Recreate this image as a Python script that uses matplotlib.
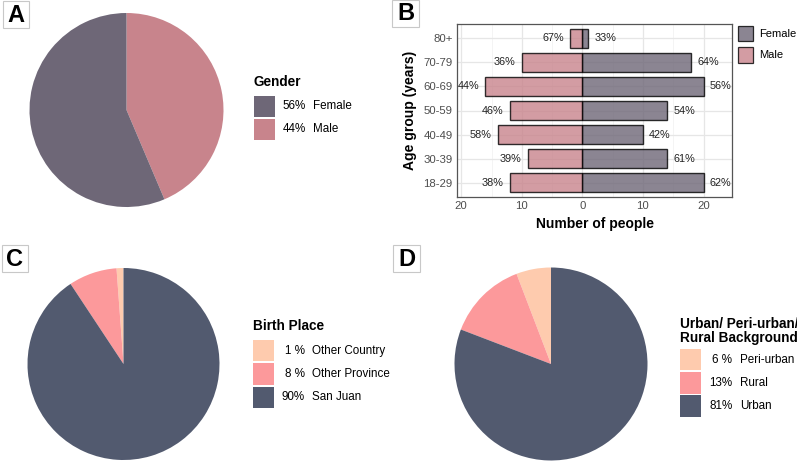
import numpy as np
import matplotlib as mpl
mpl.use("Agg")
import matplotlib.pyplot as plt
from matplotlib.patches import Rectangle

mpl.rcParams['font.family'] = ['Liberation Sans', 'DejaVu Sans']

W, H = 797, 462

# ---- data ----
gender = ["Female", "Male"]
gender_pct = ["56%", "44%"]
gender_counts = [97, 75]

age_groups = ["18-29", "30-39", "40-49", "50-59", "60-69", "70-79", "80+"]
female_n = [20, 14, 10, 14, 20, 18, 1]
male_n = [12, 9, 14, 12, 16, 10, 2]
female_pct = ["62%", "61%", "42%", "54%", "56%", "64%", "33%"]
male_pct = ["38%", "39%", "58%", "46%", "44%", "36%", "67%"]

birth = ["Other Country", "Other Province", "San Juan"]
birth_pct = ["1 %", "8 %", "90%"]
birth_counts = [2, 14, 156]

background = ["Peri-urban", "Rural", "Urban"]
background_pct = ["6 %", "13%", "81%"]
background_counts = [10, 23, 139]

COL_F = "#6e6777"
COL_M = "#c8848c"
COL_PEACH = "#fecbae"
COL_PINK = "#fc999b"
COL_SLATE = "#525a6f"


def px_axes(fig, left, top, right, bottom):
    return fig.add_axes([left / W, 1 - bottom / H, (right - left) / W, (bottom - top) / H])


def fx(x):
    return x / W


def fy(y):
    return 1 - y / H


def panel_letter(fig, letter, x0, y0, x1, y1):
    fig.patches.append(Rectangle((fx(x0), fy(y1)), fx(x1) - fx(x0), fy(y0) - fy(y1),
                                 transform=fig.transFigure, facecolor="white",
                                 edgecolor="#c8c8c8", linewidth=0.8))
    fig.text(fx((x0 + x1) / 2), fy((y0 + y1) / 2 + 0.5), letter, fontsize=17,
             fontweight="bold", ha="center", va="center")


def legend_block(fig, title, x, title_y, key_tops, key_h, colors, pcts, names,
                 pct_right, name_left):
    fig.text(fx(x), fy(title_y), title, fontsize=9.8, fontweight="bold",
             ha="left", va="baseline", linespacing=0.95)
    for top, c, p, n in zip(key_tops, colors, pcts, names):
        fig.patches.append(Rectangle((fx(x), fy(top + key_h)), 21 / W, key_h / H,
                                     transform=fig.transFigure, facecolor=c,
                                     edgecolor="none"))
        yc = top + key_h / 2
        fig.text(fx(pct_right), fy(yc), p, fontsize=8.4, ha="right", va="center")
        fig.text(fx(name_left), fy(yc), n, fontsize=8.4, ha="left", va="center")


def draw_pie(fig, cx, cy, r, values, colors, counterclock):
    ax = px_axes(fig, cx - r, cy - r, cx + r, cy + r)
    ax.pie(values, colors=colors, startangle=90, counterclock=counterclock,
           radius=1, wedgeprops=dict(linewidth=0))
    ax.set_xlim(-1, 1)
    ax.set_ylim(-1, 1)
    ax.set_aspect("equal")
    ax.axis("off")
    return ax


fig = plt.figure(figsize=(W / 100, H / 100), dpi=100)

# ---- A: gender pie ----
draw_pie(fig, 126.5, 110, 97, gender_counts[::-1], [COL_M, COL_F], False)
panel_letter(fig, "A", 3, 1, 29, 28)
legend_block(fig, "Gender", 254, 86, [95.5, 118.5], 21, [COL_F, COL_M],
             gender_pct, gender, 306, 313)

# ---- B: age pyramid ----
axB = px_axes(fig, 457, 24, 732, 197)
ypos = np.arange(1, len(age_groups) + 1)
axB.barh(ypos, female_n, height=0.8, color=COL_F, alpha=0.8, edgecolor="black",
         linewidth=1.0, zorder=3)
axB.barh(ypos, [-m for m in male_n], height=0.8, color=COL_M, alpha=0.8,
         edgecolor="black", linewidth=1.0, zorder=3)
for y, f, m, fp, mp in zip(ypos, female_n, male_n, female_pct, male_pct):
    axB.text(f + 1.0, y, fp, fontsize=7.8, ha="left", va="center", color="#222222")
    axB.text(-m - 1.0, y, mp, fontsize=7.8, ha="right", va="center", color="#222222")
axB.set_xlim(-20.7, 24.7)
axB.set_ylim(0.4, 7.6)
axB.set_xticks([-20, -10, 0, 10, 20])
axB.set_xticklabels(["20", "10", "0", "10", "20"])
axB.set_xticks([-15, -5, 5, 15], minor=True)
axB.set_yticks(ypos)
axB.set_yticklabels(age_groups)
axB.grid(which="major", color="#e6e6e6", linewidth=0.9, zorder=0)
axB.grid(which="minor", axis="x", color="#f2f2f2", linewidth=0.6, zorder=0)
axB.tick_params(which="both", length=0, labelsize=8.2, labelcolor="#4d4d4d", pad=3)
for s in axB.spines.values():
    s.set_color("#555555")
    s.set_linewidth(0.9)
axB.set_axisbelow(True)
axB.set_xlabel("Number of people", fontsize=10, fontweight="bold", labelpad=4)
axB.set_ylabel("Age group (years)", fontsize=10, fontweight="bold", labelpad=5)
panel_letter(fig, "B", 392, 0, 419, 27)
for top, c, n in zip([26, 47.3], [COL_F, COL_M], ["Female", "Male"]):
    fig.patches.append(Rectangle((fx(737.5), fy(top + 15.3)), 15.3 / W, 15.3 / H,
                                 transform=fig.transFigure, facecolor=c, alpha=0.8,
                                 edgecolor="black", linewidth=0.9))
    fig.text(fx(759.5), fy(top + 7.6), n, fontsize=8.0, ha="left", va="center")

# ---- C: birth place pie ----
draw_pie(fig, 123.5, 364, 96, birth_counts, [COL_PEACH, COL_PINK, COL_SLATE], True)
panel_letter(fig, "C", 2, 245, 28, 272)
legend_block(fig, "Birth Place", 253, 330, [340, 363.3, 386.7], 21.3,
             [COL_PEACH, COL_PINK, COL_SLATE], birth_pct, birth, 305, 312)

# ---- D: background pie ----
draw_pie(fig, 551, 364, 96.5, background_counts, [COL_PEACH, COL_PINK, COL_SLATE], True)
panel_letter(fig, "D", 393, 245, 420, 272)
legend_block(fig, "Urban/ Peri-urban/\nRural Background", 680, 341.7,
             [349, 372.3, 395.3], 21.3, [COL_PEACH, COL_PINK, COL_SLATE],
             background_pct, background, 732.5, 740)

fig.savefig("out.png", dpi=100)
